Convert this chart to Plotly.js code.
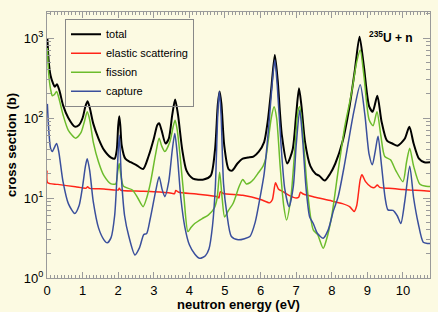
<!DOCTYPE html>
<html>
<head>
<meta charset="utf-8">
<script src="https://cdn.plot.ly/plotly-3.0.1.min.js"></script>
<style>html,body{margin:0;padding:0;background:#fcfae2;}#chart{width:438px;height:312px;}</style>
</head>
<body>
<div id="chart"></div>
<script>
// Total cross section
const totalE = [0.01,0.05,0.1,0.17,0.22,0.28,0.35,0.45,0.6,0.78,0.9,1.0,1.08,1.14,1.2,1.3,1.45,1.6,1.8,1.9,1.96,2.0,2.03,2.06,2.1,2.2,2.35,2.5,2.7,2.85,3.0,3.1,3.15,3.22,3.33,3.42,3.52,3.6,3.68,3.8,3.92,4.1,4.4,4.6,4.72,4.8,4.85,4.9,4.98,5.1,5.2,5.35,5.5,5.65,5.8,5.95,6.1,6.2,6.3,6.4,6.48,6.6,6.75,6.9,7.0,7.08,7.15,7.25,7.4,7.55,7.65,7.8,7.95,8.1,8.3,8.5,8.65,8.78,8.9,9.05,9.15,9.28,9.4,9.55,9.7,9.85,10.05,10.18,10.3,10.45,10.6,10.8];
const totalXS = [1000,500,340,270,245,265,220,145,100,78,82,100,140,162,135,85,55,40,32,31,40,80,105,80,45,31,28,26,23,33,55,82,86,70,48,55,110,170,110,40,22,17.5,17,19,40,150,214,150,45,23,22,27,31,32,33,38,50,90,230,615,300,60,27,40,110,235,140,50,25,20,19,16.5,20,27,50,140,400,1040,450,140,120,190,90,52,48,45,55,78,48,31,28,28];

// Elastic scattering
const elasticE = [0.0,0.02,0.3,0.8,1.1,1.14,1.2,1.6,2.0,2.03,2.08,2.5,3.0,3.5,3.58,3.62,3.7,4.2,4.8,4.83,4.87,4.95,5.5,6.0,6.26,6.33,6.42,6.5,6.63,6.8,7.0,7.07,7.12,7.2,7.5,8.0,8.3,8.5,8.63,8.7,8.8,8.85,8.95,9.1,9.2,9.28,9.35,9.6,10.0,10.2,10.5,10.8];
const elasticXS = [22,15.5,14.8,13.8,13.3,13.8,13.2,13.0,12.6,13.2,12.5,12.2,12.0,11.5,11.3,12.4,11.8,11.2,10.3,10.0,12.0,11.4,10.8,9.6,8.7,9.5,15.5,13,12,10.8,10,10.2,11.8,11.2,10.3,9.2,8.5,7.8,6.8,8,17,19.5,16,13.8,13.5,14.5,13.6,13.2,12.8,12.6,12.4,12.1];

// Fission
const fissionE = [0.01,0.05,0.1,0.15,0.2,0.27,0.33,0.45,0.6,0.8,0.95,1.05,1.13,1.2,1.3,1.45,1.6,1.8,1.93,1.99,2.03,2.07,2.15,2.4,2.55,2.7,2.8,2.9,3.05,3.15,3.22,3.31,3.45,3.55,3.6,3.66,3.75,3.85,3.96,4.05,4.15,4.35,4.53,4.7,4.78,4.85,4.92,4.99,5.1,5.23,5.4,5.5,5.6,5.7,5.8,5.95,6.07,6.15,6.21,6.3,6.38,6.45,6.55,6.65,6.73,6.85,6.97,7.05,7.1,7.18,7.3,7.4,7.48,7.6,7.76,7.85,8.0,8.18,8.37,8.55,8.7,8.8,8.9,9.05,9.16,9.27,9.38,9.49,9.65,9.8,10.0,10.1,10.19,10.3,10.47,10.65,10.8];
const fissionXS = [750,350,230,190,195,215,180,110,70,56,65,90,120,95,50,28,19,15,15,22,27,20,14,12.6,10,7.8,10,15,35,56,45,38,50,80,94,70,30,10,3.8,4.3,4.8,5.5,6.1,7.5,10,21,10,5.8,7,8.6,14,17,15,15.5,17,21,25,32,50,100,138,100,25,8,5.3,10,45,120,138,70,15,6,4.0,3.5,2.35,3.0,6,22,80,200,500,710,350,95,80,120,60,33,30,22,16,28,42,25,15,14,14];

// Capture
const captureE = [0.01,0.05,0.1,0.15,0.2,0.27,0.33,0.45,0.6,0.78,0.9,1.0,1.08,1.13,1.2,1.3,1.45,1.6,1.69,1.8,1.9,1.97,2.03,2.09,2.18,2.3,2.47,2.6,2.72,2.8,2.9,3.05,3.15,3.23,3.31,3.42,3.52,3.59,3.66,3.76,3.87,4.0,4.15,4.29,4.45,4.55,4.65,4.73,4.8,4.84,4.89,4.96,5.05,5.18,5.37,5.55,5.7,5.85,6.0,6.1,6.22,6.32,6.4,6.47,6.57,6.68,6.8,6.92,7.0,7.1,7.18,7.28,7.38,7.48,7.6,7.76,7.9,8.05,8.18,8.35,8.46,8.62,8.8,8.93,9.05,9.14,9.22,9.3,9.4,9.5,9.58,9.72,9.84,9.94,10.05,10.19,10.3,10.43,10.57,10.7,10.8];
const captureXS = [150,70,42,38,42,48,38,16,8.5,6.4,8,14,25,31,22,9,4.2,3.0,2.75,3.2,6,20,61,18,6,3.3,1.94,2.4,3.5,3.6,5.5,12,18.5,13,10.4,16,40,64,35,10,4.4,2.6,2.0,1.76,1.9,2.3,4.5,14,120,214,110,15,6.5,3.3,3.0,3.1,3.3,5,11,20,70,250,530,250,50,13,7.8,14,45,126,55,13,5.8,4.8,3.6,3.15,4,7,10.4,25,48,120,260,110,35,26,38,59,25,10,7.1,7,6,4.8,9,25,10,4.8,2.8,2.7,2.7];

const seriesNames = ['total','elastic scattering','fission','capture'];
const yTickVals = [1,10,100,1000];
const yTickText = ['10<sup>0</sup>','10<sup>1</sup>','10<sup>2</sup>','10<sup>3</sup>'];
const yMinorVals = [];
[1,10,100,1000].forEach(d => { for (let k = 2; k <= 9; k++) yMinorVals.push(d*k); });

const font = 'Liberation Sans, Arial, Helvetica, sans-serif';
const bg = '#fcfae2';
const axisGray = '#9a9a9a';

function tr(x, y, name, color, width) {
  return {x: x, y: y, name: name, type: 'scatter', mode: 'lines',
    line: {color: color, width: width, shape: 'spline', smoothing: 0.7}};
}

const data = [
  tr(totalE, totalXS, seriesNames[0], '#000000', 2),
  tr(elasticE, elasticXS, seriesNames[1], '#ff2418', 1.5),
  tr(fissionE, fissionXS, seriesNames[2], '#6cbc2c', 1.5),
  tr(captureE, captureXS, seriesNames[3], '#3a4f9c', 1.5)
];

const layout = {
  width: 438, height: 312,
  paper_bgcolor: bg, plot_bgcolor: bg,
  margin: {l: 47, r: 8, t: 12, b: 34},
  font: {family: font, size: 12, color: '#000'},
  showlegend: true,
  legend: {x: 0.047, y: 0.975, xanchor: 'left', yanchor: 'top',
    bgcolor: 'rgba(0,0,0,0)', bordercolor: '#888', borderwidth: 1,
    font: {family: font, size: 11, color: '#000'},
    tracegroupgap: 0, itemwidth: 30},
  xaxis: {
    range: [0, 10.76], showgrid: false, zeroline: false,
    showline: true, linecolor: axisGray, linewidth: 1, mirror: 'allticks',
    ticks: 'inside', ticklen: 6, tickcolor: axisGray, dtick: 1, tick0: 0,
    tickfont: {family: font, size: 13, color: '#000'},
    minor: {dtick: 0.1, tick0: 0, ticks: 'inside', ticklen: 3, tickcolor: axisGray, showgrid: false},
    title: {text: '<b>neutron energy (eV)</b>', font: {family: font, size: 13, color: '#000'}, standoff: 2}
  },
  yaxis: {
    type: 'log', range: [0, 3.325], showgrid: false, zeroline: false,
    showline: true, linecolor: axisGray, linewidth: 1, mirror: 'allticks',
    ticks: 'inside', ticklen: 7, tickcolor: axisGray,
    tickmode: 'array', tickvals: yTickVals, ticktext: yTickText,
    tickfont: {family: font, size: 13, color: '#000'},
    minor: {tickmode: 'array', tickvals: yMinorVals, ticks: 'inside', ticklen: 4, tickcolor: axisGray, showgrid: false},
    title: {text: '<b>cross section (b)</b>', font: {family: font, size: 13, color: '#000'}, standoff: 4}
  },
  annotations: [{
    xref: 'paper', yref: 'paper', x: 0.96, y: 0.906, xanchor: 'right', yanchor: 'middle',
    text: '<b><sup>235</sup>U + n</b>', showarrow: false,
    font: {family: font, size: 12, color: '#000'}
  }]
};

Plotly.newPlot('chart', data, layout, {staticPlot: true, displayModeBar: false});
</script>
</body>
</html>
